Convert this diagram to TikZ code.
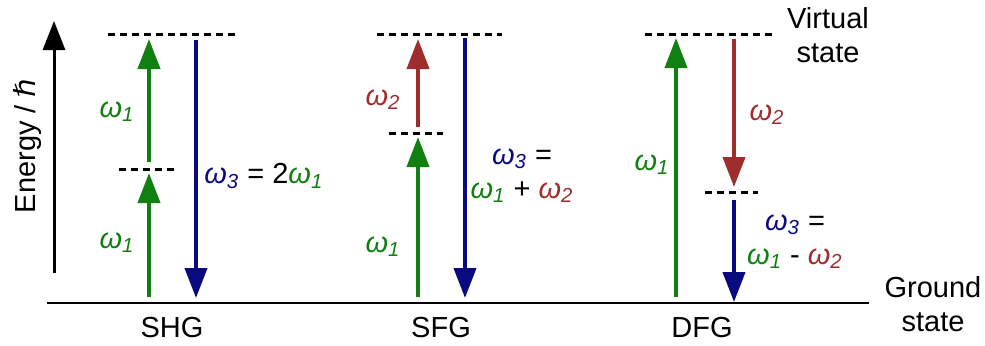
\documentclass[tikz,border=0pt]{standalone}
\usepackage{fontspec}
\setmainfont{Liberation Sans}
\newfontfamily\hbarfont{DejaVu Sans}
\usetikzlibrary{arrows.meta}
\definecolor{wgreen}{RGB}{16,128,16}
\definecolor{wred}{RGB}{160,45,45}
\definecolor{wblue}{RGB}{10,10,128}
\newcommand{\om}[2]{\textcolor{#1}{\textit{ω}\textsubscript{\textit{#2}}}}
\begin{document}
\begin{tikzpicture}[x=0.5pt,y=-0.5pt,
  level/.style={line width=1.5pt, dash pattern=on 3.5pt off 2.5pt},
  photon/.style={line width=2pt, -{Triangle[length=15pt,width=11pt]}},
  lbl/.style={font=\fontsize{14.5}{17}\selectfont, inner sep=0pt, align=center}]
  \useasboundingbox (0,0) rectangle (985,345);
  % energy axis and ground state
  \coordinate (axb) at (54,273);
  \coordinate (axt) at (54,21);
  \draw[line width=1.5pt, -{Triangle[length=14.5pt,width=11pt]}] (axb) -- (axt);
  \node[lbl, rotate=90] (energy) at (27,146) {Energy / {\hbarfont\itshape ℏ}};
  \coordinate (g0) at (47,303);
  \coordinate (g1) at (869,303);
  \draw[line width=1pt] (g0) -- (g1);
  \node[lbl] (virt) at (828,35) {Virtual\\state};
  \node[lbl] (gnd) at (933,304) {Ground\\state};
  % virtual levels
  \foreach \N/\A/\B/\Y in {shgt/108/235/34, shgm/119/174/169,
                           sfgt/377/502/34, sfgm/389/443/133,
                           dfgt/645/772/34, dfgm/705/758/192} {
    \coordinate (\N a) at (\A,\Y);
    \coordinate (\N b) at (\B,\Y);
    \draw[level] (\N a) -- (\N b);
  }
  % SHG
  \coordinate (s1) at (149,297); \coordinate (s2) at (149,173);
  \coordinate (s3) at (149,162); \coordinate (s4) at (149,39);
  \coordinate (s5) at (196,40);  \coordinate (s6) at (196,298);
  \draw[photon, wgreen] (s1) -- (s2);
  \draw[photon, wgreen] (s3) -- (s4);
  \draw[photon, wblue] (s5) -- (s6);
  \node[lbl] (shgw1a) at (117,112) {\om{wgreen}{1}};
  \node[lbl] (shgw1b) at (117,243) {\om{wgreen}{1}};
  \node[lbl, anchor=west] (shgw3) at (204,176) {\om{wblue}{3} = 2\om{wgreen}{1}};
  \node[lbl] (shg) at (172,328) {SHG};
  % SFG
  \coordinate (f1) at (418,297); \coordinate (f2) at (418,137);
  \coordinate (f3) at (418,127); \coordinate (f4) at (418,39);
  \coordinate (f5) at (465,38);  \coordinate (f6) at (465,298);
  \draw[photon, wgreen] (f1) -- (f2);
  \draw[photon, wred] (f3) -- (f4);
  \draw[photon, wblue] (f5) -- (f6);
  \node[lbl] (sfgw2) at (383,100) {\om{wred}{2}};
  \node[lbl] (sfgw1) at (383,247) {\om{wgreen}{1}};
  \node[lbl] (sfgw3) at (522,176) {\om{wblue}{3} =\\\om{wgreen}{1} + \om{wred}{2}};
  \node[lbl] (sfg) at (441,328) {SFG};
  % DFG
  \coordinate (d1) at (676,297); \coordinate (d2) at (676,38);
  \coordinate (d3) at (734,39);  \coordinate (d4) at (734,187);
  \coordinate (d5) at (734,200); \coordinate (d6) at (734,302);
  \draw[photon, wgreen] (d1) -- (d2);
  \draw[photon, wred] (d3) -- (d4);
  \draw[photon, wblue] (d5) -- (d6);
  \node[lbl] (dfgw1) at (652,165) {\om{wgreen}{1}};
  \node[lbl] (dfgw2) at (767,115) {\om{wred}{2}};
  \node[lbl] (dfgw3) at (795,242) {\om{wblue}{3} =\\\om{wgreen}{1} - \om{wred}{2}};
  \node[lbl] (dfg) at (702,328) {DFG};
\end{tikzpicture}
\end{document}
